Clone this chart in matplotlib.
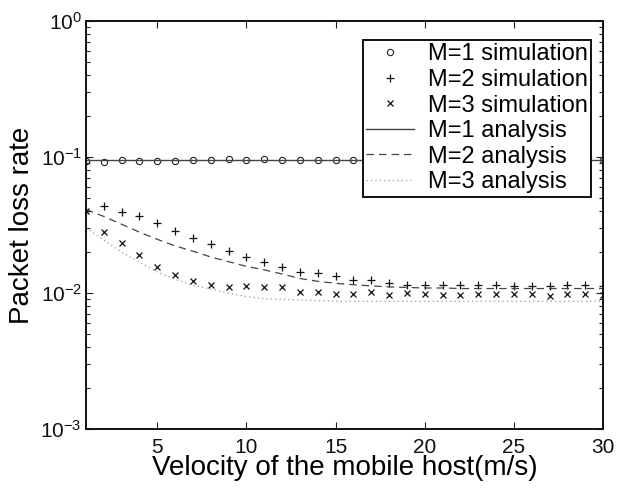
import matplotlib
matplotlib.use("Agg")
import matplotlib.pyplot as plt
from matplotlib.ticker import LogLocator, NullFormatter

plt.rcParams["font.family"] = ["Liberation Sans", "DejaVu Sans"]
plt.rcParams["mathtext.fontset"] = "custom"
plt.rcParams["mathtext.rm"] = "Liberation Sans"

# velocity of the mobile host (m/s)
velocity = list(range(1, 31))

# simulation results
sim_m1 = [0.0929, 0.0923, 0.0954, 0.0934, 0.0938, 0.0938, 0.0954, 0.0954, 0.0965, 0.0954,
          0.0965, 0.0944, 0.0944, 0.0944, 0.0944, 0.0944, 0.0944, 0.0944, 0.0944, 0.0944,
          0.0944, 0.0944, 0.0944, 0.0944, 0.0944, 0.0944, 0.0944, 0.0944, 0.0944, 0.0944]
sim_m2 = [0.0403, 0.0438, 0.0396, 0.0370, 0.0326, 0.0286, 0.0255, 0.0229, 0.0204, 0.0185,
          0.0170, 0.0156, 0.0144, 0.0140, 0.0133, 0.0125, 0.0124, 0.0119, 0.0115, 0.0114,
          0.0114, 0.0114, 0.0114, 0.0114, 0.0113, 0.0113, 0.0113, 0.0114, 0.0114, 0.0113]
sim_m3 = [0.0403, 0.0283, 0.0232, 0.0190, 0.0156, 0.0136, 0.0123, 0.0115, 0.0111, 0.0113,
          0.0110, 0.0110, 0.0102, 0.0101, 0.0099, 0.0099, 0.0101, 0.0097, 0.0100, 0.0099,
          0.0097, 0.0096, 0.0099, 0.0098, 0.0098, 0.0098, 0.0095, 0.0098, 0.0098, 0.0097]

# analytical results
ana_m1 = [0.0944] * 30
ana_m2 = [0.0411, 0.0365, 0.0320, 0.0280, 0.0248, 0.0222, 0.0203, 0.0184, 0.0170, 0.0157,
          0.0148, 0.0138, 0.0128, 0.0122, 0.0118, 0.0115, 0.0113, 0.0111, 0.0110, 0.0109,
          0.0109, 0.0108, 0.0108, 0.0108, 0.0108, 0.0108, 0.0108, 0.0108, 0.0108, 0.0108]
ana_m3 = [0.0302, 0.0245, 0.0200, 0.0168, 0.0143, 0.0126, 0.0114, 0.0107, 0.0100, 0.0094,
          0.0091, 0.0090, 0.0089, 0.0088, 0.0087, 0.0087, 0.0087, 0.0087, 0.0087, 0.0087,
          0.0087, 0.0087, 0.0087, 0.0087, 0.0087, 0.0087, 0.0087, 0.0087, 0.0087, 0.0087]

fig = plt.figure(figsize=(6.17, 4.91), dpi=100)
ax = fig.add_axes([0.1394, 0.1257, 0.838, 0.8322])

ax.plot(velocity, sim_m1, linestyle="none", marker="o", markersize=4.5,
        markerfacecolor="none", markeredgecolor="#222222", markeredgewidth=0.8,
        label="M=1 simulation")
ax.plot(velocity, sim_m2, linestyle="none", marker="+", markersize=5.5,
        color="#111111", markeredgewidth=0.9, label="M=2 simulation")
ax.plot(velocity, sim_m3, linestyle="none", marker="x", markersize=3.8,
        color="#111111", markeredgewidth=0.9, label="M=3 simulation")
ax.plot(velocity, ana_m1, linestyle="-", color="#444444", linewidth=1.0,
        label="M=1 analysis")
ax.plot(velocity, ana_m2, linestyle=(0, (6, 4)), color="#444444", linewidth=0.9,
        label="M=2 analysis")
ax.plot(velocity, ana_m3, linestyle=(0, (1, 2.5)), color="#999999", linewidth=0.9,
        label="M=3 analysis")

ax.set_yscale("log")
ax.set_xlim(1, 30)
ax.set_ylim(1e-3, 1)
ax.set_xticks([5, 10, 15, 20, 25, 30])
ax.yaxis.set_major_locator(LogLocator(base=10, numticks=10))
ax.yaxis.set_minor_locator(LogLocator(base=10, subs=range(2, 10), numticks=10))
ax.yaxis.set_minor_formatter(NullFormatter())

ax.tick_params(which="both", direction="in", top=True, right=True, width=0.8,
               colors="#222222", labelcolor="#111111")
ax.tick_params(which="major", length=5, labelsize=15)
ax.tick_params(axis="x", which="major", pad=6)
ax.tick_params(axis="y", which="major", pad=3)
ax.tick_params(which="minor", length=3)
for spine in ax.spines.values():
    spine.set_linewidth(1.4)
    spine.set_color("#111111")

ax.set_xlabel("Velocity of the mobile host(m/s)", fontsize=20, labelpad=-1)
ax.set_ylabel("Packet loss rate", fontsize=20, labelpad=4)

leg = ax.legend(loc="upper right", bbox_to_anchor=(0.977, 0.953), fontsize=17,
                frameon=True, fancybox=False, framealpha=1, edgecolor="#111111",
                handlelength=2.0, handletextpad=0.6, borderpad=0.15, labelspacing=0.15,
                borderaxespad=0)
leg.get_frame().set_linewidth(1.4)

fig.savefig("out.png", dpi=100)
